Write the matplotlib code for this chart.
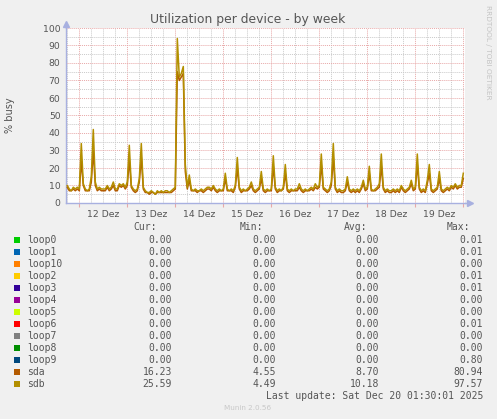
#!/usr/bin/env python3

import matplotlib

matplotlib.use("Agg")

import matplotlib.dates as mdates
import matplotlib.pyplot as plt
import numpy as np
import pandas as pd
from matplotlib.patches import Rectangle
from matplotlib.ticker import FixedLocator, FuncFormatter, MultipleLocator


W, H = 497, 419

TITLE = "Utilization per device - by week"
Y_LABEL = "% busy"
MONTH = "Dez"

# hourly samples, 11 Dez 18:00 .. 20 Dez 00:00
START = "2025-12-11 18:00"
END = "2025-12-20 00:00"
VIEW_START = "2025-12-11 17:21"
VIEW_END = "2025-12-20 00:51"

SDB = (
    [10, 8, 7, 9, 8, 9]
    + [8, 34, 11, 8, 7, 8, 15, 42, 12, 8, 9, 8, 8, 8, 10, 8, 9, 12, 8, 8, 11, 10, 11, 9]
    + [12, 33, 10, 8, 7, 8, 14, 34, 9, 7, 6, 6, 7, 6, 5, 7, 6, 7, 6, 7, 7, 6, 7, 8]
    + [9, 94, 72, 74, 78, 22, 9, 16, 8, 7, 8, 7, 7, 8, 7, 8, 9, 9, 8, 10, 8, 7, 8, 7]
    + [8, 17, 8, 7, 8, 7, 10, 26, 9, 7, 8, 7, 8, 9, 12, 8, 7, 8, 9, 18, 8, 7, 8, 7]
    + [8, 27, 9, 7, 8, 7, 9, 22, 8, 7, 8, 7, 8, 8, 11, 8, 7, 8, 7, 8, 9, 8, 11, 9]
    + [10, 28, 9, 8, 7, 8, 12, 34, 9, 7, 8, 7, 7, 8, 15, 8, 7, 8, 7, 8, 7, 9, 13, 8]
    + [9, 21, 8, 7, 8, 9, 11, 28, 9, 7, 8, 7, 7, 8, 7, 8, 7, 10, 8, 7, 8, 9, 13, 8]
    + [9, 28, 9, 7, 8, 7, 13, 22, 8, 7, 8, 9, 18, 8, 7, 8, 9, 8, 10, 9, 11, 9, 10, 10]
    + [17]
)

SDA = (
    [9, 7, 7, 8, 7, 8]
    + [7, 24, 10, 7, 7, 7, 12, 30, 10, 7, 8, 7, 7, 7, 9, 7, 8, 10, 7, 7, 10, 9, 10, 8]
    + [10, 25, 9, 7, 6, 7, 12, 26, 8, 6, 6, 5, 6, 6, 5, 6, 6, 6, 6, 6, 6, 6, 6, 7]
    + [8, 75, 70, 72, 74, 18, 8, 13, 7, 7, 7, 6, 7, 7, 6, 7, 8, 8, 7, 9, 7, 6, 7, 7]
    + [7, 14, 7, 7, 7, 6, 9, 20, 8, 6, 7, 7, 7, 8, 10, 7, 6, 7, 8, 14, 7, 6, 7, 7]
    + [7, 21, 8, 6, 7, 7, 8, 17, 7, 6, 7, 7, 7, 7, 9, 7, 6, 7, 7, 7, 8, 7, 9, 8]
    + [9, 22, 8, 7, 6, 7, 10, 26, 8, 6, 7, 6, 6, 7, 12, 7, 6, 7, 6, 7, 6, 8, 11, 7]
    + [8, 17, 7, 7, 7, 8, 9, 21, 8, 6, 7, 6, 6, 7, 6, 7, 6, 9, 7, 6, 7, 8, 11, 7]
    + [8, 22, 8, 6, 7, 6, 11, 17, 7, 6, 7, 8, 14, 7, 6, 7, 8, 7, 9, 8, 10, 8, 9, 9]
    + [14]
)

NAMES = ["loop0", "loop1", "loop10", "loop2", "loop3", "loop4", "loop5",
         "loop6", "loop7", "loop8", "loop9", "sda", "sdb"]
COLORS = ["#00CC00", "#0066B3", "#FF8000", "#FFCC00", "#330099", "#990099",
          "#CCFF00", "#FF0000", "#808080", "#008F00", "#00487D", "#B35A00",
          "#B38F00"]
CUR = ["0.00"] * 11 + ["16.23", "25.59"]
MIN = ["0.00"] * 11 + ["4.55", "4.49"]
AVG = ["0.00"] * 11 + ["8.70", "10.18"]
MAX = ["0.01", "0.01", "0.00", "0.01", "0.01", "0.00", "0.00", "0.01",
       "0.00", "0.00", "0.80", "80.94", "97.57"]
LAST_UPDATE = "Last update: Sat Dec 20 01:30:01 2025"
VERSION = "Munin 2.0.56"
SIDE_TEXT = "RRDTOOL / TOBI OETIKER"

BG = "#F0F0F0"
TEXT = "#555555"
MAJOR_GRID = "#E8A8A8"
MINOR_GRID = "#CACACA"
AXIS = "#A8B0E0"


def fx(x):
    return x / W


def fy(y):
    return 1 - y / H


def day_label(value, pos):
    d = mdates.num2date(value)
    if d.hour == 12:
        return f"{d.day} {MONTH}"
    return ""


def main():
    times = pd.date_range(START, END, freq="h")

    fig = plt.figure(figsize=(W / 100, H / 100), dpi=100, facecolor=BG)
    ax = fig.add_axes([fx(66), fy(203), fx(465) - fx(66), fy(28) - fy(203)])
    ax.set_facecolor("white")

    ax.plot(times, SDA, color=COLORS[11], linewidth=1.1, zorder=3)
    ax.plot(times, SDB, color=COLORS[12], linewidth=1.1, zorder=4)

    ax.set_xlim(pd.Timestamp(VIEW_START), pd.Timestamp(VIEW_END))
    ax.set_ylim(0, 100)

    # grid: red at midnight / every 10, grey every 6 h / every 5
    ax.xaxis.set_major_locator(mdates.DayLocator())
    ax.xaxis.set_major_formatter(FuncFormatter(lambda v, p: ""))
    ax.xaxis.set_minor_locator(mdates.HourLocator(byhour=[6, 12, 18]))
    ax.xaxis.set_minor_formatter(FuncFormatter(day_label))
    ax.yaxis.set_major_locator(MultipleLocator(10))
    ax.yaxis.set_minor_locator(MultipleLocator(5))

    dots = (0, (1, 1))
    ax.grid(True, which="major", color=MAJOR_GRID, linestyle=dots, linewidth=0.7)
    ax.grid(True, which="minor", color=MINOR_GRID, linestyle=dots, linewidth=0.7)
    ax.set_axisbelow(True)

    ax.tick_params(axis="x", which="major", length=3, color=MAJOR_GRID,
                   direction="out")
    ax.tick_params(axis="x", which="minor", length=0, pad=5, labelsize=6.7,
                   labelcolor=TEXT)
    ax.tick_params(axis="y", which="both", length=0, pad=4, labelsize=6.7,
                   labelcolor=TEXT)

    for side in ("top", "right"):
        ax.spines[side].set_visible(False)
    for side in ("bottom", "left"):
        ax.spines[side].set_color(AXIS)
        ax.spines[side].set_linewidth(1.0)
    ax.plot([1.0, 1.012], [0, 0], color=AXIS, lw=1.0, transform=ax.transAxes,
            clip_on=False)
    ax.plot([1.012], [0], marker=">", color=AXIS, markersize=4,
            transform=ax.transAxes, clip_on=False)
    ax.plot([0, 0], [1.0, 1.02], color=AXIS, lw=1.0, transform=ax.transAxes,
            clip_on=False)
    ax.plot([0], [1.02], marker="^", color=AXIS, markersize=4,
            transform=ax.transAxes, clip_on=False)

    fig.text(fx(248), fy(19), TITLE, ha="center", va="center", fontsize=8.9,
             color=TEXT)
    fig.text(fx(10), fy(115), Y_LABEL, ha="center", va="center", rotation=90,
             fontsize=7, color=TEXT)
    fig.text(fx(488), fy(5), SIDE_TEXT, ha="center", va="top", rotation=270,
             fontsize=5.3, color="#C4C4C4")

    # legend table
    mono = "DejaVu Sans Mono"
    header_y = 227
    for label, x in (("Cur:", 157), ("Min:", 263), ("Avg:", 367), ("Max:", 470)):
        fig.text(fx(x), fy(header_y), label, ha="right", va="center",
                 family=mono, fontsize=7, color=TEXT)

    for i, name in enumerate(NAMES):
        y = 240 + 12 * i
        fig.patches.append(Rectangle((fx(14), fy(y + 3)), fx(6), fy(0) - fy(6),
                                     transform=fig.transFigure,
                                     facecolor=COLORS[i], edgecolor="none"))
        fig.text(fx(27), fy(y), name, ha="left", va="center", family=mono,
                 fontsize=7, color=TEXT)
        for value, x in ((CUR[i], 172), (MIN[i], 276), (AVG[i], 379), (MAX[i], 483)):
            fig.text(fx(x), fy(y), value, ha="right", va="center", family=mono,
                     fontsize=7, color=TEXT)

    fig.text(fx(483), fy(396), LAST_UPDATE, ha="right", va="center",
             family=mono, fontsize=7, color=TEXT)
    fig.text(fx(248), fy(408), VERSION, ha="center", va="center",
             fontsize=5.2, color="#C8C8C8")

    fig.savefig("out.png", dpi=100, facecolor=BG)
    plt.close(fig)


if __name__ == "__main__":
    main()
